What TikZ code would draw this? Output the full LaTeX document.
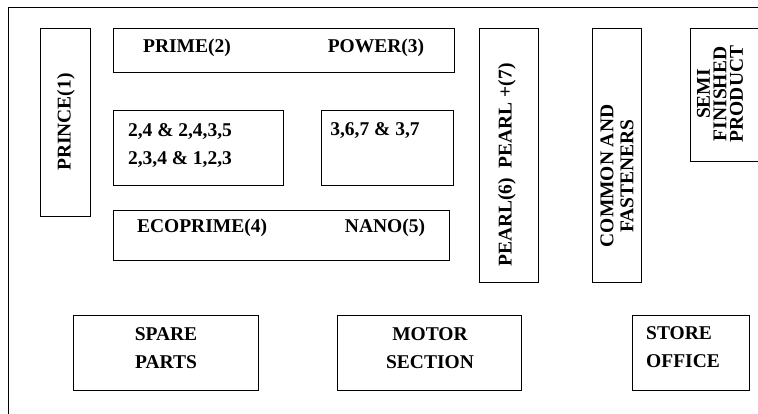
\documentclass[tikz,border=0pt]{standalone}
\usepackage{fontspec}
\setmainfont{Liberation Serif}
\tikzset{
  room/.style={draw, line width=0.9pt, rectangle, inner sep=0pt, anchor=north west},
  lbl/.style={inner sep=0pt, font=\fontsize{19.5}{28}\selectfont\bfseries},
  vlbl/.style={inner sep=0pt, rotate=90, align=center},
}
\begin{document}
\begin{tikzpicture}[x=1pt,y=-1pt]
\clip (0,0) rectangle (758,414);
\fill[white] (0,0) rectangle (758,414);
% outer frame
\coordinate (fb) at (8,414);
\coordinate (ftl) at (8,7);
\coordinate (fr) at (758,7);
\draw[line width=0.9pt] (fb) -- (ftl) -- (fr);
% boxes
\node[room, minimum width=50pt, minimum height=188pt] (prince) at (40,28) {};
\node[room, minimum width=341pt, minimum height=44pt] (primebox) at (113,28) {};
\node[room, minimum width=170pt, minimum height=75pt] (comba) at (113,110) {};
\node[room, minimum width=132pt, minimum height=75pt] (combb) at (321,110) {};
\node[room, minimum width=336pt, minimum height=50pt] (ecobox) at (113,210) {};
\node[room, minimum width=59pt, minimum height=254pt] (pearl) at (479,28) {};
\node[room, minimum width=49pt, minimum height=254pt] (common) at (592,28) {};
\node[room, minimum width=90pt, minimum height=133pt] (semi) at (690,28) {};
\node[room, minimum width=185pt, minimum height=75pt] (spare) at (73,315) {};
\node[room, minimum width=184pt, minimum height=75pt] (motor) at (337,315) {};
\node[room, minimum width=117pt, minimum height=75pt] (store) at (632,315) {};
% labels
\node[lbl, vlbl] (tprince) at (66,122) {PRINCE(1)};
\node[lbl] (tprime) at (187,48) {PRIME(2)};
\node[lbl] (tpower) at (376,48) {POWER(3)};
\node[lbl, align=center] (tcomba) at (180,146) {2,4 \& 2,4,3,5\\2,3,4 \& 1,2,3};
\node[lbl] (tcombb) at (375,131) {3,6,7 \& 3,7};
\node[lbl] (teco) at (202,228) {ECOPRIME(4)};
\node[lbl] (tnano) at (385,228) {NANO(5)};
\node[lbl, vlbl] (tpearl) at (507,165) {PEARL(6)\ \ PEARL +(7)};
\node[lbl, vlbl, font=\fontsize{19.5}{20}\selectfont\bfseries] (tcommon) at (617,176) {COMMON AND\\FASTENERS};
\node[lbl, vlbl, font=\fontsize{19.5}{16.5}\selectfont\bfseries] (tsemi) at (720,94) {SEMI\\FINISHED\\PRODUCT};
\node[lbl, align=center] (tspare) at (166,348) {SPARE\\PARTS};
\node[lbl, align=center] (tmotor) at (430,348) {MOTOR\\SECTION};
\node[lbl, align=left, anchor=west] (tstore) at (646,347) {STORE\\OFFICE};
\end{tikzpicture}
\end{document}
